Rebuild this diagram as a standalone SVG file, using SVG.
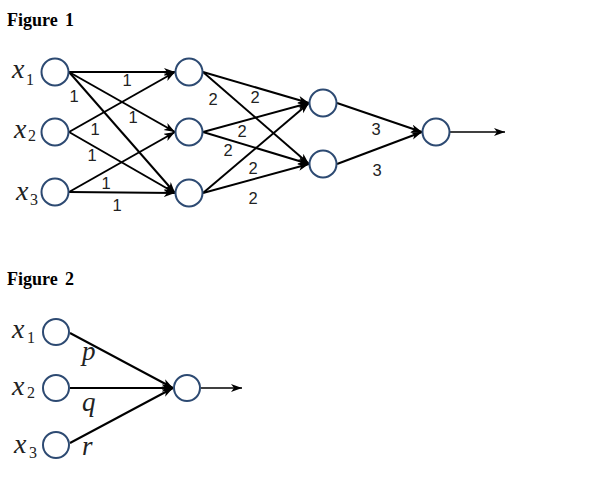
<svg xmlns="http://www.w3.org/2000/svg" width="591" height="479" viewBox="0 0 591 479">
<defs>
<marker id="ah" markerUnits="userSpaceOnUse" markerWidth="12" markerHeight="9" refX="11" refY="4" orient="auto">
<path d="M0,0 L11,4 L0,8 L3,4 z" fill="#000"/>
</marker>
<style>
.n{fill:#fff;stroke:#2d4a72;stroke-width:2}
.e{stroke:#000;stroke-width:2;fill:none;marker-end:url(#ah)}
.o{stroke:#000;stroke-width:1.6;fill:none;marker-end:url(#ah)}
.t{font-family:"Liberation Serif",serif;font-weight:bold;font-size:18px;fill:#000}
.w{font-family:"Liberation Sans",Arial,sans-serif;font-size:16.5px;fill:#222;text-anchor:middle}
.x{font-family:"Liberation Serif",serif;font-style:italic;font-size:28px;fill:#222}
.s{font-family:"Liberation Serif",serif;font-size:16px;fill:#222}
.v{font-family:"Liberation Serif",serif;font-style:italic;font-size:27px;fill:#222}
</style>
</defs>
<rect width="591" height="479" fill="#fff"/>
<text class="t" x="7" y="26">Figure<tspan x="65">1</tspan></text>
<text class="t" x="7" y="285">Figure<tspan x="65">2</tspan></text>
<g id="connectors">
<line class="e" x1="69" y1="72" x2="175" y2="72"/>
<line class="e" x1="69" y1="72" x2="175" y2="132"/>
<line class="e" x1="69" y1="72" x2="175" y2="193"/>
<line class="e" x1="69" y1="132" x2="175" y2="72"/>
<line class="e" x1="69" y1="132" x2="175" y2="193"/>
<line class="e" x1="69" y1="192" x2="175" y2="132"/>
<line class="e" x1="69" y1="192" x2="175" y2="193"/>
<line class="e" x1="203" y1="72" x2="309" y2="103"/>
<line class="e" x1="203" y1="72" x2="309" y2="164"/>
<line class="e" x1="203" y1="132" x2="309" y2="103"/>
<line class="e" x1="203" y1="132" x2="309" y2="164"/>
<line class="e" x1="203" y1="193" x2="309" y2="103"/>
<line class="e" x1="203" y1="193" x2="309" y2="164"/>
<line class="e" x1="337" y1="103" x2="422" y2="132"/>
<line class="e" x1="337" y1="164" x2="422" y2="132"/>
<line class="o" x1="450" y1="132" x2="505" y2="132"/>
<line class="e" x1="70" y1="333" x2="173" y2="388"/>
<line class="e" x1="70" y1="388" x2="173" y2="388"/>
<line class="e" x1="70" y1="443" x2="173" y2="388"/>
<line class="o" x1="201" y1="388" x2="242" y2="388"/>
</g>
<g id="weights">
<text class="w" x="127" y="86">1</text>
<text class="w" x="74" y="102">1</text>
<text class="w" x="133" y="123">1</text>
<text class="w" x="95" y="135">1</text>
<text class="w" x="92" y="161">1</text>
<text class="w" x="106" y="189">1</text>
<text class="w" x="117" y="211">1</text>
<text class="w" x="213" y="105">2</text>
<text class="w" x="255" y="103">2</text>
<text class="w" x="242" y="137">2</text>
<text class="w" x="228" y="156">2</text>
<text class="w" x="253" y="174">2</text>
<text class="w" x="253" y="204">2</text>
<text class="w" x="376" y="135">3</text>
<text class="w" x="377" y="176">3</text>
<text class="v" x="82" y="360">p</text>
<text class="v" x="82" y="411">q</text>
<text class="v" x="82" y="455">r</text>
</g>
<g id="n-x1"><circle class="n" cx="55" cy="72" r="13.5"/><text class="x" x="12" y="78">x</text><text class="s" x="26" y="85">1</text></g>
<g id="n-x2"><circle class="n" cx="55" cy="132" r="13.5"/><text class="x" x="14" y="138">x</text><text class="s" x="28" y="141">2</text></g>
<g id="n-x3"><circle class="n" cx="55" cy="192" r="13.5"/><text class="x" x="16" y="200">x</text><text class="s" x="30" y="205">3</text></g>
<g id="n-h1"><circle class="n" cx="189" cy="72" r="13.5"/></g>
<g id="n-h2"><circle class="n" cx="189" cy="132" r="13.5"/></g>
<g id="n-h3"><circle class="n" cx="189" cy="193" r="13.5"/></g>
<g id="n-g1"><circle class="n" cx="323" cy="103" r="13.5"/></g>
<g id="n-g2"><circle class="n" cx="323" cy="164" r="13.5"/></g>
<g id="n-out"><circle class="n" cx="436" cy="132" r="13.5"/></g>
<g id="f2-x1"><circle class="n" cx="56" cy="332" r="13"/><text class="x" x="12" y="338">x</text><text class="s" x="27" y="343">1</text></g>
<g id="f2-x2"><circle class="n" cx="56" cy="388" r="13"/><text class="x" x="12" y="395">x</text><text class="s" x="27" y="398">2</text></g>
<g id="f2-x3"><circle class="n" cx="56" cy="445" r="13"/><text class="x" x="14" y="453">x</text><text class="s" x="29" y="458">3</text></g>
<g id="f2-out"><circle class="n" cx="187" cy="388" r="13"/></g>
</svg>
